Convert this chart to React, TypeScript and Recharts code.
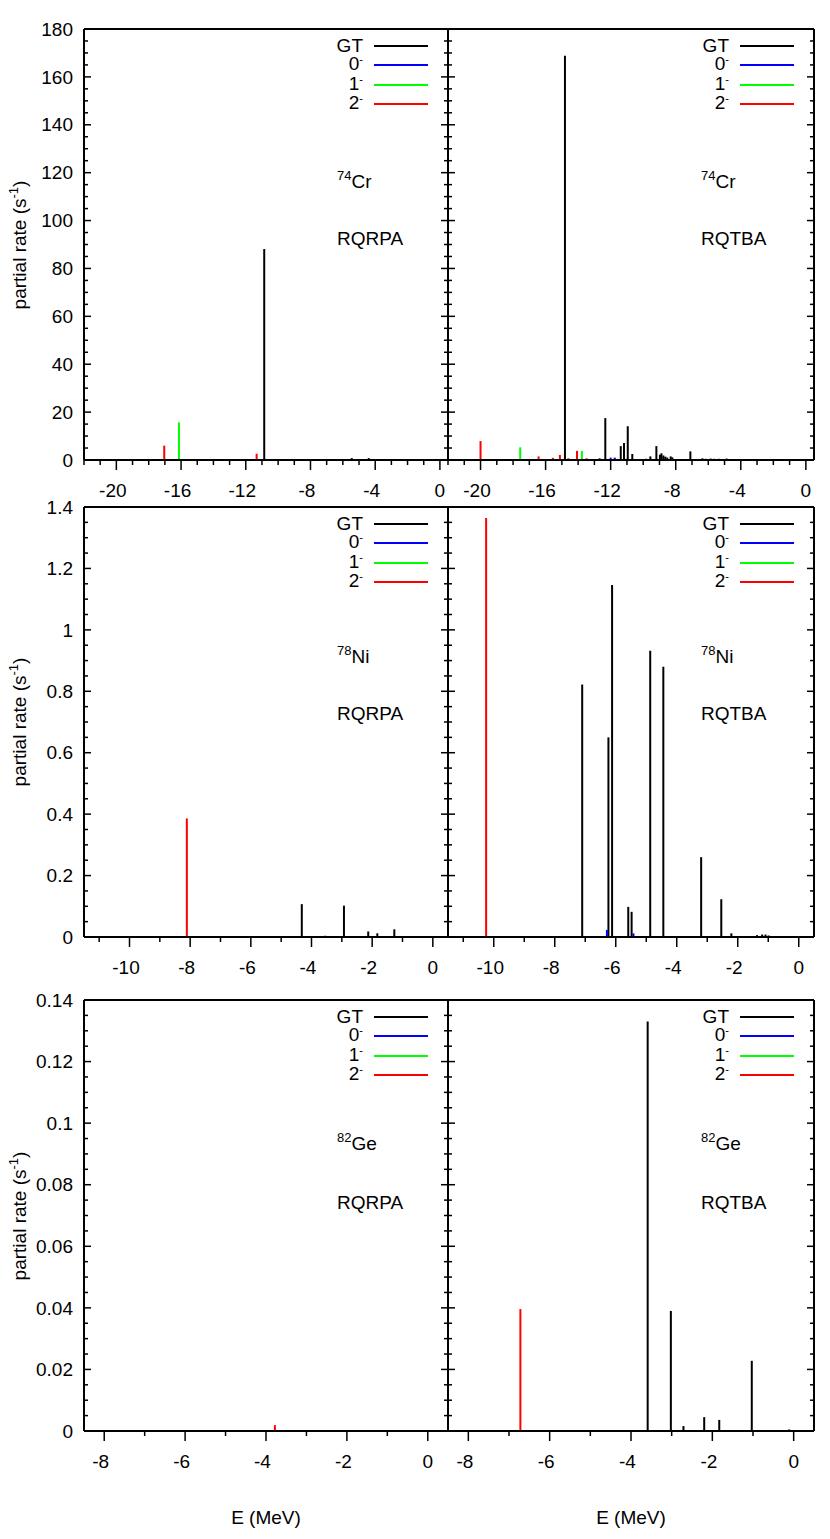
import React from 'react';
import { ScatterChart, Scatter, XAxis, YAxis, ErrorBar, Legend } from 'recharts';

const FONT = '"Liberation Sans", Arial, Helvetica, sans-serif';
const FS = 19;

type Pt = [number, number];

// ---- series meta ----
const SERIES_KEYS = ['GT', '0-', '1-', '2-'];
const SERIES_BASE = ['GT', '0', '1', '2'];
const SERIES_SUP = ['', '-', '-', '-'];
const SERIES_COLORS = ['#000000', '#0000ff', '#00ff00', '#ff0000'];

// ---- 74Cr RQRPA : [E (MeV), partial rate (s^-1)] ----
const CR74_RQRPA_GT: Pt[] = [[-10.86, 88.1], [-6.7, 0.3], [-6.0, 0.3], [-5.45, 0.8], [-4.4, 0.8], [-3.5, 0.3]];
const CR74_RQRPA_0M: Pt[] = [];
const CR74_RQRPA_1M: Pt[] = [[-16.13, 15.7]];
const CR74_RQRPA_2M: Pt[] = [[-17.04, 6.0], [-11.33, 2.6]];

// ---- 74Cr RQTBA ----
const CR74_RQTBA_GT: Pt[] = [
  [-14.81, 168.8], [-12.68, 0.7], [-12.33, 17.5], [-11.38, 5.8], [-11.18, 7.1], [-10.95, 14.1],
  [-10.67, 2.5], [-9.81, 0.5], [-9.56, 1.5], [-9.19, 5.8], [-8.97, 2.2], [-8.88, 2.8], [-8.76, 1.9],
  [-8.64, 1.4], [-8.52, 1.0], [-8.31, 1.5], [-8.21, 1.1], [-8.0, 0.4], [-7.7, 0.4], [-7.38, 0.4],
  [-7.10, 3.6], [-6.36, 0.7], [-6.16, 0.5], [-5.85, 0.6], [-5.65, 0.5], [-5.34, 0.5], [-4.87, 0.6],
  [-4.41, 0.4], [-4.06, 0.4], [-3.69, 0.4],
];
const CR74_RQTBA_0M: Pt[] = [[-12.0, 1.0], [-11.75, 1.0]];
const CR74_RQTBA_1M: Pt[] = [[-17.56, 5.3], [-13.77, 3.8], [-9.5, 0.4]];
const CR74_RQTBA_2M: Pt[] = [
  [-20.0, 7.9], [-16.68, 0.4], [-16.43, 1.5], [-15.55, 0.9], [-15.12, 2.1], [-14.6, 0.7],
  [-14.07, 3.8], [-13.48, 0.7], [-11.06, 0.5],
];

// ---- 78Ni RQRPA ----
const NI78_RQRPA_GT: Pt[] = [[-4.32, 0.107], [-3.55, 0.004], [-2.93, 0.102], [-2.13, 0.018], [-1.83, 0.012], [-1.27, 0.025]];
const NI78_RQRPA_0M: Pt[] = [];
const NI78_RQRPA_1M: Pt[] = [];
const NI78_RQRPA_2M: Pt[] = [[-8.11, 0.386]];

// ---- 78Ni RQTBA ----
const NI78_RQTBA_GT: Pt[] = [
  [-7.10, 0.822], [-6.24, 0.65], [-6.12, 1.146], [-5.59, 0.098], [-5.48, 0.082], [-4.87, 0.932],
  [-4.44, 0.88], [-3.45, 0.002], [-3.20, 0.26], [-2.54, 0.123], [-2.21, 0.012], [-1.37, 0.006],
  [-1.20, 0.008], [-1.09, 0.008], [-0.99, 0.005],
];
const NI78_RQTBA_0M: Pt[] = [[-6.29, 0.023], [-5.42, 0.012]];
const NI78_RQTBA_1M: Pt[] = [];
const NI78_RQTBA_2M: Pt[] = [[-10.25, 1.364], [-6.08, 0.003]];

// ---- 82Ge RQRPA ----
const GE82_RQRPA_GT: Pt[] = [[-0.44, 0.0003]];
const GE82_RQRPA_0M: Pt[] = [];
const GE82_RQRPA_1M: Pt[] = [];
const GE82_RQRPA_2M: Pt[] = [[-3.78, 0.0019]];

// ---- 82Ge RQTBA ----
const GE82_RQTBA_GT: Pt[] = [[-3.59, 0.133], [-3.02, 0.039], [-2.71, 0.0016], [-2.20, 0.0045], [-1.83, 0.0036], [-1.03, 0.0228], [-0.11, 0.0005]];
const GE82_RQTBA_0M: Pt[] = [];
const GE82_RQTBA_1M: Pt[] = [];
const GE82_RQTBA_2M: Pt[] = [[-6.72, 0.0396]];

// ---- axes ----
const steps = (from: number, to: number, step: number) => {
  const n = Math.round((to - from) / step);
  return Array.from({ length: n + 1 }, (_, i) => Math.round((from + i * step) * 1e6) / 1e6);
};

const ROW_X_DOMAINS: [number, number][] = [[-22, 0.5], [-11.5, 0.5], [-8.5, 0.5]];
const ROW_X_TICKS = [steps(-22, 0, 1), steps(-11, 0, 1), steps(-8, 0, 1)];
const ROW_X_MAJOR = [4, 2, 2];
const ROW_Y_DOMAINS: [number, number][] = [[0, 180], [0, 1.4], [0, 0.14]];
const ROW_Y_TICKS = [steps(0, 180, 5), steps(0, 1.4, 0.05), steps(0, 0.14, 0.005)];
const ROW_Y_MAJOR = [20, 0.2, 0.02];
const ROW_ISOTOPE = [['74', 'Cr'], ['78', 'Ni'], ['82', 'Ge']];
const METHODS = ['RQRPA', 'RQTBA'];

// layout
const ROW_TOP = [29, 507, 1000];
const ROW_PLOT_H = [431, 430, 431];
const ROW_XAXIS_H = [42, 42, 93];
const ROW_TEXT_DY = [[153, 209], [150, 206], [144, 202]];

const PANEL_SERIES: Pt[][][] = [
  [CR74_RQRPA_GT, CR74_RQRPA_0M, CR74_RQRPA_1M, CR74_RQRPA_2M],
  [CR74_RQTBA_GT, CR74_RQTBA_0M, CR74_RQTBA_1M, CR74_RQTBA_2M],
  [NI78_RQRPA_GT, NI78_RQRPA_0M, NI78_RQRPA_1M, NI78_RQRPA_2M],
  [NI78_RQTBA_GT, NI78_RQTBA_0M, NI78_RQTBA_1M, NI78_RQTBA_2M],
  [GE82_RQRPA_GT, GE82_RQRPA_0M, GE82_RQRPA_1M, GE82_RQRPA_2M],
  [GE82_RQTBA_GT, GE82_RQTBA_0M, GE82_RQTBA_1M, GE82_RQTBA_2M],
];

const AXIS_LINE = { stroke: '#000', strokeWidth: 2 };
const isMajor = (v: number, major: number) => Math.abs(v / major - Math.round(v / major)) < 1e-6;
const fmt = (v: number) => String(Number(v.toFixed(4)));

const NoDot = () => <g />;

function LegendBox() {
  return (
    <div style={{ fontFamily: FONT, fontSize: FS, color: '#000' }}>
      {SERIES_KEYS.map((k, i) => (
        <div key={k} style={{ height: 19.5, display: 'flex', alignItems: 'center', justifyContent: 'flex-end', paddingRight: 20 }}>
          <span style={{ lineHeight: '17px', whiteSpace: 'nowrap' }}>
            {SERIES_BASE[i]}
            {SERIES_SUP[i] && (
              <span style={{ fontSize: 11, position: 'relative', top: -7 }}>{SERIES_SUP[i]}</span>
            )}
          </span>
          <span style={{ display: 'inline-block', width: 54, height: 2, marginLeft: 11, background: SERIES_COLORS[i] }} />
        </div>
      ))}
    </div>
  );
}

function Panel({ index }: { index: number }) {
  const row = Math.floor(index / 2);
  const right = index % 2 === 1;
  const plotLeft = right ? 448 : 84;
  const plotRight = right ? 814 : 448;
  const divLeft = right ? 438 : 0;
  const yW = right ? 1 : 60;
  const mLeft = plotLeft - divLeft - yW;
  const mRight = 10;
  const plotTopInDiv = 10;
  const topAxisH = 1;
  const mTop = plotTopInDiv - topAxisH;
  const mBottom = 5;
  const xH = ROW_XAXIS_H[row];
  const plotH = ROW_PLOT_H[row];
  const width = plotRight - divLeft + 1 + mRight;
  const height = plotTopInDiv + plotH + xH + mBottom;
  const divTop = ROW_TOP[row] - plotTopInDiv;
  const xMajor = ROW_X_MAJOR[row];
  const yMajor = ROW_Y_MAJOR[row];

  const xTick = (props: any) => {
    const { x, y, payload } = props;
    const v = payload.value as number;
    const maj = isMajor(v, xMajor);
    return (
      <g>
        <line x1={x} y1={y} x2={x} y2={y + (maj ? 10 : 5)} stroke="#000" strokeWidth={1.5} />
        {maj && (
          <text x={v < 0 ? x - 3.5 : x} y={y + 36.8} textAnchor="middle" fontFamily={FONT} fontSize={FS} fill="#000">
            {fmt(v)}
          </text>
        )}
      </g>
    );
  };
  const yTickLeft = (props: any) => {
    const { x, y, payload } = props;
    const v = payload.value as number;
    const maj = isMajor(v, yMajor);
    return (
      <g>
        <line x1={x} y1={y} x2={x + (maj ? 7 : 4)} y2={y} stroke="#000" strokeWidth={1.5} />
        {!right && maj && (
          <text x={x - 11} y={y} dy="0.35em" textAnchor="end" fontFamily={FONT} fontSize={FS} fill="#000">
            {fmt(v)}
          </text>
        )}
      </g>
    );
  };
  const yTickRight = (props: any) => {
    const { x, y, payload } = props;
    const maj = isMajor(payload.value as number, yMajor);
    return <line x1={x} y1={y} x2={x - (maj ? 7 : 4)} y2={y} stroke="#000" strokeWidth={1.5} />;
  };

  const series = PANEL_SERIES[index];
  const [mass, sym] = ROW_ISOTOPE[row];
  const [dy1, dy2] = ROW_TEXT_DY[row];
  const textLeft = plotLeft - divLeft + 253;

  return (
    <div style={{ position: 'absolute', left: divLeft, top: divTop, width, height }}>
      <ScatterChart width={width} height={height} margin={{ top: mTop, right: mRight, bottom: mBottom, left: mLeft }}>
        <XAxis
          xAxisId={0}
          type="number"
          dataKey="e"
          domain={ROW_X_DOMAINS[row]}
          ticks={ROW_X_TICKS[row]}
          interval={0}
          allowDataOverflow
          tickSize={0}
          tickMargin={0}
          tickLine={false}
          tick={xTick}
          axisLine={AXIS_LINE}
          height={xH}
          label={
            row === 2
              ? { value: 'E (MeV)', position: 'insideBottom', offset: 0, fill: '#000', fontSize: FS, fontFamily: FONT }
              : undefined
          }
        />
        <XAxis
          xAxisId="top"
          orientation="top"
          type="number"
          dataKey="e"
          domain={ROW_X_DOMAINS[row]}
          allowDataOverflow
          tick={false}
          tickLine={false}
          axisLine={AXIS_LINE}
          height={topAxisH}
        />
        <YAxis
          yAxisId={0}
          type="number"
          dataKey="r"
          domain={ROW_Y_DOMAINS[row]}
          ticks={ROW_Y_TICKS[row]}
          interval={0}
          allowDataOverflow
          width={yW}
          tickSize={0}
          tickMargin={0}
          tickLine={false}
          tick={yTickLeft}
          axisLine={AXIS_LINE}
        />
        <YAxis
          yAxisId="r"
          orientation="right"
          type="number"
          dataKey="r"
          domain={ROW_Y_DOMAINS[row]}
          ticks={ROW_Y_TICKS[row]}
          interval={0}
          allowDataOverflow
          width={1}
          tickSize={0}
          tickMargin={0}
          tickLine={false}
          tick={yTickRight}
          axisLine={AXIS_LINE}
        />
        {series.map((pts, i) => (
          <Scatter
            key={SERIES_KEYS[i]}
            name={SERIES_KEYS[i]}
            xAxisId={0}
            yAxisId={0}
            data={pts.map(([e, r]) => ({ e, r, err: [r, 0] }))}
            fill={SERIES_COLORS[i]}
            shape={NoDot}
            isAnimationActive={false}
          >
            <ErrorBar dataKey="err" direction="y" width={0} stroke={SERIES_COLORS[i]} strokeWidth={2} isAnimationActive={false} />
          </Scatter>
        ))}
        <Legend
          layout="horizontal"
          verticalAlign="middle"
          align="center"
          wrapperStyle={{ position: 'absolute', left: plotRight - divLeft - 160, top: plotTopInDiv + 16.5 - 9.75, width: 160, height: 80 }}
          content={() => <LegendBox />}
        />
      </ScatterChart>
      <div style={{ position: 'absolute', left: textLeft, top: plotTopInDiv + dy1, transform: 'translateY(-50%)', fontFamily: FONT, fontSize: FS, lineHeight: `${FS}px`, whiteSpace: 'nowrap', color: '#000' }}>
        <span style={{ fontSize: 13, position: 'relative', top: -8 }}>{mass}</span>
        {sym}
      </div>
      <div style={{ position: 'absolute', left: textLeft, top: plotTopInDiv + dy2, transform: 'translateY(-50%)', fontFamily: FONT, fontSize: FS, lineHeight: `${FS}px`, whiteSpace: 'nowrap', color: '#000' }}>
        {METHODS[index % 2]}
      </div>
    </div>
  );
}

export default function App() {
  return (
    <div style={{ position: 'absolute', left: 0, top: 0, width: 830, height: 1539, background: '#fff', overflow: 'hidden' }}>
      {PANEL_SERIES.map((_, i) => (
        <Panel key={i} index={i} />
      ))}
      {ROW_TOP.map((t, r) => (
        <div
          key={r}
          style={{
            position: 'absolute',
            left: 20,
            top: t + ROW_PLOT_H[r] / 2,
            transform: 'translate(-50%, -50%) rotate(-90deg)',
            fontFamily: FONT,
            fontSize: FS,
            lineHeight: `${FS + 4}px`,
            whiteSpace: 'nowrap',
            color: '#000',
          }}
        >
          partial rate (s<span style={{ fontSize: 13, position: 'relative', top: -8 }}>-1</span>)
        </div>
      ))}
    </div>
  );
}
